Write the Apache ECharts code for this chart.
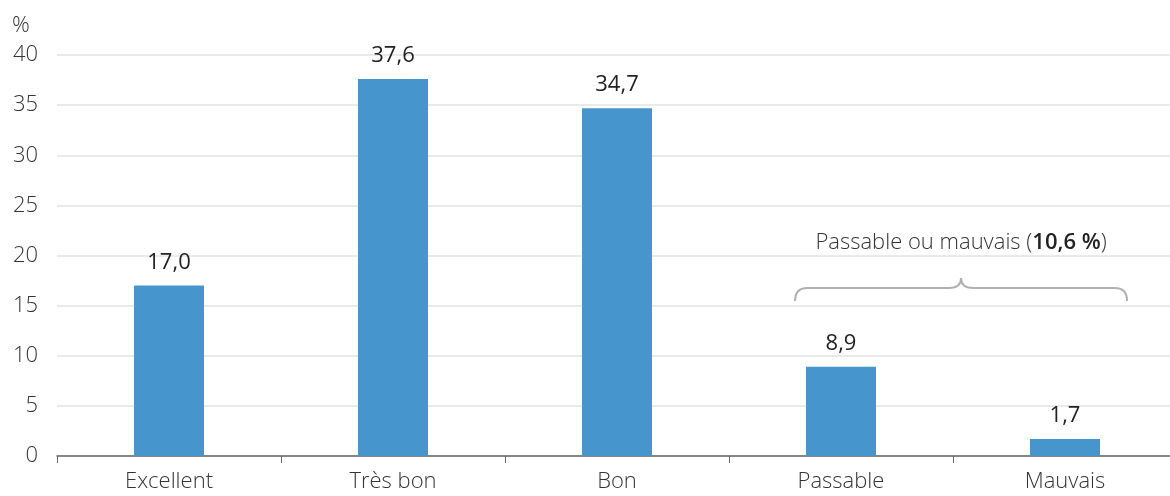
<!DOCTYPE html>
<html>
<head>
<meta charset="utf-8">
<script src="https://cdn.jsdelivr.net/npm/echarts@6/dist/echarts.min.js"></script>
<style>
  html, body { margin: 0; padding: 0; background: #fff; }
  #chart { width: 1170px; height: 496px; }
</style>
</head>
<body>
<div id="chart"></div>
<script>
// Auto-évaluation de l'état de santé (%)
const categories = ['Excellent', 'Très bon', 'Bon', 'Passable', 'Mauvais'];
const values = [17.0, 37.6, 34.7, 8.9, 1.7];
const yTicks = [0, 5, 10, 15, 20, 25, 30, 35, 40];
const groupLabel = 'Passable ou mauvais';
const groupValue = '10,6\u00a0%';

const FONT = '"Open Sans", "Noto Sans", sans-serif';
const FS = 22;
const chart = echarts.init(document.getElementById('chart'));

const fmt = v => v.toFixed(1).replace('.', ',');

chart.setOption({
  animation: false,
  textStyle: { fontFamily: FONT },
  // the plot runs slightly past the right edge of the canvas
  grid: { left: 57, right: -7, top: 55, bottom: 40, outerBoundsMode: 'none', containLabel: false },
  xAxis: {
    type: 'category',
    data: categories,
    axisLine: { lineStyle: { color: '#666', width: 1.5 } },
    axisTick: { show: true, length: 7, lineStyle: { color: '#666' } },
    axisLabel: { color: '#333', fontSize: FS, fontWeight: 300, fontFamily: FONT, margin: 15 }
  },
  yAxis: {
    type: 'value',
    min: yTicks[0],
    max: yTicks[yTicks.length - 1],
    interval: 5,
    axisLine: { show: false },
    axisTick: { show: false },
    splitLine: { lineStyle: { color: '#e3e3e3', width: 1.5 } },
    axisLabel: { color: '#333', fontSize: FS, fontWeight: 300, fontFamily: FONT, margin: 19 }
  },
  series: [{
    type: 'bar',
    data: values,
    barWidth: 70,
    itemStyle: { color: '#4795cd' },
    label: {
      show: true,
      position: 'top',
      distance: 12,
      color: '#222',
      fontSize: FS,
      fontFamily: FONT,
      formatter: p => fmt(p.value)
    }
  }]
});

// Unit label and grouping brace over the last two categories
function drawAnnotations() {
  const left = chart.convertToPixel({ xAxisIndex: 0 }, 'Passable');
  const right = chart.convertToPixel({ xAxisIndex: 0 }, 'Mauvais');
  const step = right - left;
  const x0 = left - step * 0.205;
  const x1 = right + step * 0.277;
  const xm = (x0 + x1) / 2;
  const yLine = chart.convertToPixel({ yAxisIndex: 0 }, 16.75);
  const yEnd = chart.convertToPixel({ yAxisIndex: 0 }, 15.45);
  const yTip = chart.convertToPixel({ yAxisIndex: 0 }, 17.75);
  const yText = chart.convertToPixel({ yAxisIndex: 0 }, 21.3);
  const r = 12;
  const braceStyle = { stroke: '#b0b0b0', lineWidth: 2, fill: null };
  const curve = (a, c, b) => ({
    type: 'bezierCurve',
    shape: { x1: a[0], y1: a[1], cpx1: c[0], cpy1: c[1], x2: b[0], y2: b[1] },
    style: braceStyle
  });
  const seg = (a, b) => ({
    type: 'line',
    shape: { x1: a[0], y1: a[1], x2: b[0], y2: b[1] },
    style: braceStyle
  });

  chart.setOption({
    graphic: [
      {
        type: 'text', left: 12, top: 15,
        style: { text: '%', fontSize: FS, fontWeight: 300, fontFamily: FONT, fill: '#333' }
      },
      curve([x0, yEnd], [x0, yLine], [x0 + r, yLine]),
      seg([x0 + r, yLine], [xm - r, yLine]),
      curve([xm - r, yLine], [xm, yLine], [xm, yTip]),
      curve([xm, yTip], [xm, yLine], [xm + r, yLine]),
      seg([xm + r, yLine], [x1 - r, yLine]),
      curve([x1 - r, yLine], [x1, yLine], [x1, yEnd]),
      {
        type: 'text',
        x: xm, y: yText,
        style: {
          text: groupLabel + ' ({b|' + groupValue + '})',
          align: 'center', verticalAlign: 'middle',
          fontSize: FS, fontWeight: 300, fontFamily: FONT, fill: '#333',
          rich: { b: { fontWeight: 600, fontSize: FS, fontFamily: FONT, fill: '#222' } }
        }
      }
    ]
  });
}
drawAnnotations();
</script>
</body>
</html>
